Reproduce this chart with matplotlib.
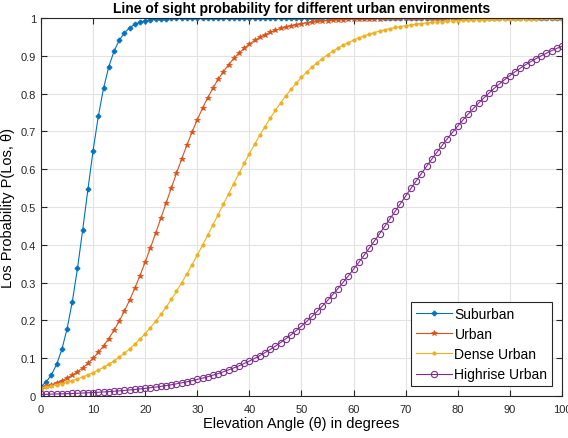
import matplotlib.pyplot as plt

# ======================
# DATA (one value per degree)
# ======================
angle = list(range(0, 101))

suburban = [
    0.0245, 0.0372, 0.0561, 0.0837, 0.1231, 0.1775, 0.2491, 0.3377, 0.4394, 0.5465,
    0.6494, 0.7401, 0.8140, 0.8706, 0.9118, 0.9408, 0.9607, 0.9741, 0.9830, 0.9889,
    0.9927, 0.9953, 0.9969, 0.9980, 0.9987, 0.9991, 0.9994, 0.9996, 0.9998, 0.9998,
    0.9999, 0.9999, 0.9999, 1.0, 1.0, 1.0, 1.0, 1.0, 1.0, 1.0,
    1.0, 1.0, 1.0, 1.0, 1.0, 1.0, 1.0, 1.0, 1.0, 1.0,
    1.0, 1.0, 1.0, 1.0, 1.0, 1.0, 1.0, 1.0, 1.0, 1.0,
    1.0, 1.0, 1.0, 1.0, 1.0, 1.0, 1.0, 1.0, 1.0, 1.0,
    1.0, 1.0, 1.0, 1.0, 1.0, 1.0, 1.0, 1.0, 1.0, 1.0,
    1.0, 1.0, 1.0, 1.0, 1.0, 1.0, 1.0, 1.0, 1.0, 1.0,
    1.0, 1.0, 1.0, 1.0, 1.0, 1.0, 1.0, 1.0, 1.0, 1.0,
    1.0,
]

urban = [
    0.0219, 0.0256, 0.0299, 0.0349, 0.0407, 0.0474, 0.0552, 0.0641, 0.0745, 0.0863,
    0.0997, 0.1151, 0.1324, 0.1519, 0.1736, 0.1978, 0.2244, 0.2535, 0.2850, 0.3187,
    0.3544, 0.3918, 0.4305, 0.4701, 0.5100, 0.5498, 0.5891, 0.6272, 0.6637, 0.6985,
    0.7311, 0.7613, 0.7892, 0.8146, 0.8375, 0.8581, 0.8765, 0.8929, 0.9072, 0.9198,
    0.9309, 0.9405, 0.9488, 0.9560, 0.9623, 0.9677, 0.9723, 0.9763, 0.9798, 0.9827,
    0.9852, 0.9874, 0.9892, 0.9908, 0.9922, 0.9933, 0.9943, 0.9951, 0.9958, 0.9965,
    0.9970, 0.9974, 0.9978, 0.9981, 0.9984, 0.9986, 0.9988, 0.9990, 0.9992, 0.9993,
    0.9994, 0.9995, 0.9996, 0.9996, 0.9997, 0.9997, 0.9998, 0.9998, 0.9998, 0.9999,
    0.9999, 0.9999, 0.9999, 0.9999, 0.9999, 1.0, 1.0, 1.0, 1.0, 1.0,
    1.0, 1.0, 1.0, 1.0, 1.0, 1.0, 1.0, 1.0, 1.0, 1.0,
    1.0,
]

dense_urban = [
    0.0214, 0.0239, 0.0266, 0.0296, 0.0329, 0.0366, 0.0407, 0.0452, 0.0502, 0.0557,
    0.0618, 0.0685, 0.0758, 0.0839, 0.0927, 0.1024, 0.1130, 0.1245, 0.1370, 0.1505,
    0.1651, 0.1809, 0.1977, 0.2158, 0.2350, 0.2553, 0.2768, 0.2993, 0.3229, 0.3474,
    0.3727, 0.3988, 0.4254, 0.4525, 0.4799, 0.5074, 0.5348, 0.5621, 0.5889, 0.6153,
    0.6410, 0.6659, 0.6899, 0.7129, 0.7349, 0.7558, 0.7755, 0.7941, 0.8115, 0.8277,
    0.8429, 0.8569, 0.8699, 0.8818, 0.8928, 0.9029, 0.9121, 0.9205, 0.9282, 0.9352,
    0.9416, 0.9474, 0.9526, 0.9573, 0.9616, 0.9654, 0.9689, 0.9721, 0.9749, 0.9775,
    0.9798, 0.9818, 0.9837, 0.9854, 0.9869, 0.9882, 0.9894, 0.9905, 0.9915, 0.9924,
    0.9932, 0.9939, 0.9945, 0.9951, 0.9956, 0.9960, 0.9965, 0.9968, 0.9972, 0.9975,
    0.9977, 0.9980, 0.9982, 0.9984, 0.9985, 0.9987, 0.9988, 0.9989, 0.9991, 0.9992,
    0.9992,
]

highrise_urban = [
    0.0041, 0.0045, 0.0049, 0.0053, 0.0057, 0.0062, 0.0067, 0.0072, 0.0078, 0.0085,
    0.0092, 0.0099, 0.0107, 0.0116, 0.0126, 0.0136, 0.0147, 0.0159, 0.0173, 0.0187,
    0.0202, 0.0218, 0.0236, 0.0255, 0.0276, 0.0298, 0.0322, 0.0348, 0.0376, 0.0406,
    0.0438, 0.0473, 0.0510, 0.0551, 0.0594, 0.0640, 0.0690, 0.0743, 0.0799, 0.0861,
    0.0925, 0.0995, 0.1069, 0.1148, 0.1231, 0.1320, 0.1415, 0.1515, 0.1620, 0.1732,
    0.1850, 0.1974, 0.2103, 0.2239, 0.2381, 0.2529, 0.2683, 0.2843, 0.3009, 0.3180,
    0.3356, 0.3536, 0.3721, 0.3910, 0.4102, 0.4297, 0.4494, 0.4692, 0.4892, 0.5092,
    0.5292, 0.5491, 0.5688, 0.5882, 0.6075, 0.6264, 0.6449, 0.6630, 0.6807, 0.6978,
    0.7144, 0.7304, 0.7459, 0.7607, 0.7750, 0.7886, 0.8017, 0.8141, 0.8259, 0.8371,
    0.8477, 0.8578, 0.8672, 0.8762, 0.8846, 0.8925, 0.8999, 0.9069, 0.9135, 0.9196,
    0.9253,
]

x_ticks = list(range(0, 101, 10))
y_ticks = [0, 0.1, 0.2, 0.3, 0.4, 0.5, 0.6, 0.7, 0.8, 0.9, 1]
y_tick_labels = ["0", "0.1", "0.2", "0.3", "0.4", "0.5", "0.6", "0.7", "0.8", "0.9", "1"]

# ======================
# PLOT
# ======================
plt.rcParams["font.family"] = ["Liberation Sans", "DejaVu Sans"]

fig = plt.figure(figsize=(5.68, 4.39), dpi=100)
ax = fig.add_axes([0.0722, 0.0957, 0.9172, 0.861])

ax.plot(angle, suburban, color="#0072BD", lw=0.8, marker="P", ms=3.5, mew=0.5, label="Suburban")
ax.plot(angle, urban, color="#D95319", lw=0.8, marker="*", ms=4, mew=0.5, label="Urban")
ax.plot(angle, dense_urban, color="#EDB120", lw=0.8, marker=".", ms=4, label="Dense Urban")
ax.plot(angle, highrise_urban, color="#7E2F8E", lw=0.8, marker="o", ms=4.5, mfc="none",
        mew=0.8, label="Highrise Urban")

ax.set_xlim(0, 100)
ax.set_ylim(0, 1)
ax.set_xticks(x_ticks)
ax.set_yticks(y_ticks)
ax.set_yticklabels(y_tick_labels)
ax.tick_params(direction="in", length=4, labelsize=8, colors="#262626", top=True, right=True)
ax.tick_params(axis="x", pad=6)
ax.grid(True, color="#e3e3e3", lw=0.8)
ax.set_axisbelow(True)
for s in ax.spines.values():
    s.set_color("#262626")
    s.set_linewidth(0.8)

ax.set_title("Line of sight probability for different urban environments",
             fontsize=10, fontweight="bold", pad=4)
ax.set_xlabel("Elevation Angle (\u03b8) in degrees", fontsize=10.5, labelpad=1)
ax.set_ylabel("Los Probability P(Los, \u03b8)", fontsize=10.5, labelpad=4)

leg = ax.legend(loc="lower right", fontsize=10, fancybox=False, framealpha=1,
                edgecolor="#262626", borderpad=0.35, labelspacing=0.45,
                handlelength=2.6, handletextpad=0.2, borderaxespad=0.7)
leg.get_frame().set_linewidth(0.8)

fig.savefig("out.png", dpi=100)
